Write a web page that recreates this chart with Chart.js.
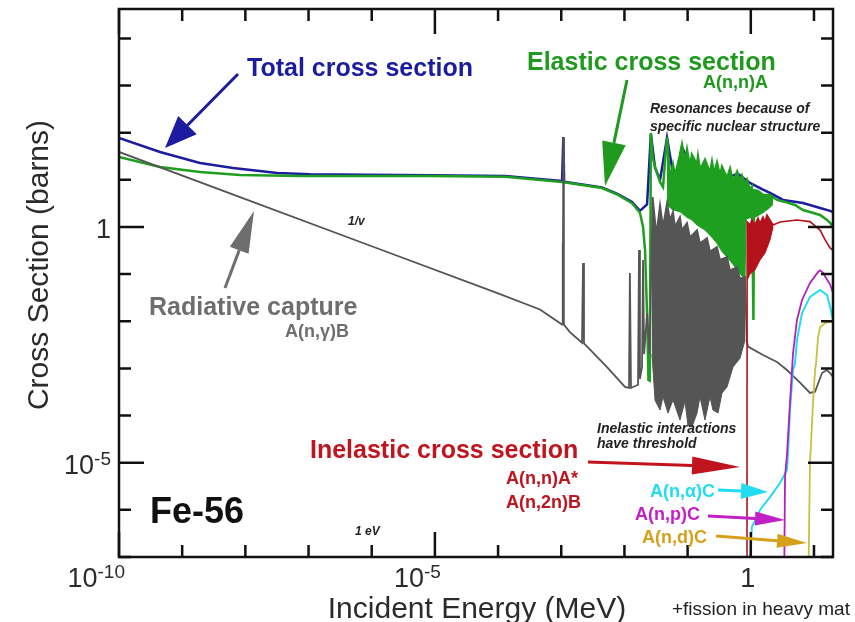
<!DOCTYPE html>
<html>
<head>
<meta charset="utf-8">
<script src="https://cdn.jsdelivr.net/npm/chart.js@4.4.1/dist/chart.umd.min.js"></script>
<style>
html, body { margin: 0; padding: 0; background: #fff; }
#wrap { width: 855px; height: 622px; position: relative; }
</style>
</head>
<body>
<div id="wrap"><canvas id="xsChart"></canvas></div>
<script>
// Fe-56 neutron cross sections, energy in MeV, cross section in barns
var totalE = [1e-10, 4.46e-10, 1.91e-9, 6.4e-9, 3.2e-8, 1.05e-7, 8.4e-7, 8.4e-6, 1.29e-4, 1.03e-3, 1.08e-3, 1.11e-3, 4.41e-3, 7.9e-3, 1.32e-2, 1.76e-2, 2.28e-2, 2.62e-2, 3.05e-2, 3.66e-2, 4.72e-2, 6.31e-2, 8.14e-2, 0.146, 0.243, 0.391, 0.627, 0.971, 1.56, 2.01, 3.24, 6.7, 12.5, 18.0, 20];
var totalS = [77, 39, 22.8, 17.8, 14.0, 13.2, 12.8, 12.5, 12.0, 9.4, 81, 9.1, 6.9, 5.0, 3.4, 2.2, 3.0, 95, 18, 9.9, 78, 7.8, 50, 9, 10, 11, 13.3, 8.6, 6.2, 5.26, 3.74, 3.23, 2.53, 2.2, 2.08];

var elasticE = [1e-10, 4.46e-10, 1.91e-9, 8.2e-9, 7.3e-8, 8.4e-6, 1.29e-4, 1.03e-3, 4.41e-3, 7.9e-3, 1.32e-2, 1.76e-2, 1.97e-2, 2.12e-2, 2.28e-2, 2.40e-2, 2.52e-2, 2.62e-2, 2.8e-2, 3.05e-2, 3.66e-2, 4.08e-2, 4.72e-2, 5.26e-2, 5.87e-2, 6.31e-2, 7.57e-2, 8.14e-2, 9.09e-2, 9.78e-2, 0.109, 0.117, 0.141, 0.146, 0.157, 0.188, 0.226, 0.243, 0.262, 0.292, 0.326, 0.350, 0.420, 0.469, 0.523, 0.605, 0.675, 0.726, 0.81, 0.871, 0.971, 1.04, 1.10, 1.13, 1.30, 1.56, 2.01, 2.6, 3.48, 5.01, 6.7, 8.65, 12.5, 16.1, 18.0, 20];
var elasticS = [30.5, 18.7, 14.7, 12.7, 12.1, 12.1, 11.6, 9.0, 6.7, 4.8, 3.2, 2.0, 1.0, 0.32, 0.015, 5.7e-4, 5.5e-4, 99, 30, 18.7, 9.0, 7.06, 81, 9.9, 20.7, 12.1, 33.7, 55, 23.9, 43, 18.7, 33.7, 20.7, 30.5, 16.2, 26.4, 14.0, 23.9, 13.3, 22.8, 12.1, 18.7, 10.9, 17, 9.0, 14.7, 9.0, 12.1, 7.8, 9.9, 6.1, 7.06, 0.0106, 6.0, 5.8, 4.77, 4.77, 3.74, 3.4, 2.93, 2.29, 2.08, 1.8, 1.4, 1.22, 1.0];
// lower edge of the dense elastic resonances
var elasticLowE = [4.72e-2, 5.87e-2, 7.57e-2, 9.78e-2, 0.117, 0.141, 0.188, 0.243, 0.292, 0.350, 0.420, 0.523, 0.627, 0.726, 0.81, 0.84, 0.871, 1.04, 1.16, 1.56, 2.01, 2.25];
var elasticLowS = [2.9, 2.3, 2.1, 1.6, 1.4, 1.1, 0.86, 0.6, 0.45, 0.3, 0.23, 0.16, 0.12, 0.09, 0.08, 1.4, 1.5, 1.6, 1.6, 2.0, 2.6, 3.0];

var captureE = [1e-10, 1e-8, 1e-6, 1e-4, 4.6e-4, 1.03e-3, 1.05e-3, 1.06e-3, 1.08e-3, 1.10e-3, 1.37e-3, 2.13e-3, 2.21e-3, 2.29e-3, 5.3e-3, 1.02e-2, 1.18e-2, 1.22e-2, 1.27e-2, 1.64e-2, 1.70e-2, 1.76e-2, 1.90e-2, 1.97e-2, 2.05e-2, 2.28e-2, 2.5e-2, 2.8e-2, 3.2e-2, 3.66e-2, 4.08e-2, 4.72e-2, 5.26e-2, 5.87e-2, 6.31e-2, 7.57e-2, 8.14e-2, 9.78e-2, 0.109, 0.141, 0.157, 0.203, 0.226, 0.292, 0.326, 0.42, 0.469, 0.605, 0.675, 0.81, 0.86, 0.903, 1.56, 2.6, 3.74, 6.01, 8.65, 10.4, 13.4, 16.0, 18.0, 20];
var captureS = [39, 3.9, 0.39, 0.039, 0.0178, 0.0085, 0.46, 0.013, 81, 0.0085, 0.0059, 0.0035, 0.172, 0.0034, 0.00107, 4.04e-4, 3.85e-4, 0.106, 3.85e-4, 4.5e-4, 0.325, 6e-4, 0.00107, 0.2, 0.002, 0.015, 0.002, 4.33, 0.7, 2.93, 1.0, 3.2, 1.4, 2.1, 1.0, 1.63, 0.86, 1.22, 0.6, 0.86, 0.45, 0.585, 0.3, 0.377, 0.2, 0.231, 0.12, 0.142, 0.08, 0.087, 0.004, 0.0029, 0.00193, 0.00137, 9.25e-4, 5.0e-4, 3.01e-4, 3.2e-4, 8.0e-4, 9.25e-4, 8e-4, 6.6e-4];
// lower edge of the dense capture resonances
var captureLowE = [2.73e-2, 3.05e-2, 3.66e-2, 4.08e-2, 4.89e-2, 5.87e-2, 7.57e-2, 9.09e-2, 0.101, 0.117, 0.141, 0.157, 0.188, 0.226, 0.252, 0.303, 0.35, 0.42, 0.523, 0.675, 0.81];
var captureLowS = [0.002, 2.1e-4, 1.31e-4, 2.5e-4, 1.13e-4, 2.14e-4, 8.05e-5, 2.0e-4, 6.3e-5, 5.71e-5, 1.13e-4, 2.5e-4, 8.05e-5, 2.5e-4, 1.31e-4, 1.13e-4, 3e-4, 4.04e-4, 1.07e-3, 1.64e-3, 0.004];

var inelasticE = [0.87, 0.875, 0.971, 1.04, 1.16, 1.30, 1.40, 1.56, 1.68, 1.80, 2.01, 2.25, 2.9, 5.38, 8.65, 12.5, 15.0, 18.0, 20];
var inelasticS = [1e-8, 1.28, 1.1, 1.41, 1.1, 1.55, 1.2, 1.63, 1.28, 1.8, 1.41, 1.1, 1.28, 1.41, 1.3, 0.86, 0.53, 0.36, 0.32];
var inelasticLowE = [0.875, 0.971, 1.16, 1.40, 1.68, 2.01, 2.25];
var inelasticLowS = [0.0751, 0.1, 0.122, 0.2, 0.28, 0.53, 1.0];

var nAlphaE = [0.90, 1.04, 1.40, 2.01, 2.9, 3.74, 3.88, 4.17, 4.49, 4.66, 5.01, 5.38, 6.47, 8.65, 12.5, 16.1, 18.0, 20];
var nAlphaS = [1e-8, 4.33e-7, 9.93e-7, 1.87e-6, 3.71e-6, 7.0e-6, 1.61e-5, 1.31e-4, 5.0e-4, 9.25e-4, 1.3e-3, 4.0e-3, 0.015, 0.033, 0.046, 0.036, 0.02, 0.0106];

var nProtonE = [3.35, 3.48, 3.74, 4.17, 4.49, 4.66, 5.38, 6.47, 8.65, 11.6, 12.5, 13.9, 18.0, 20];
var nProtonS = [1e-8, 5e-6, 1.5e-5, 1.85e-4, 9.25e-4, 0.00212, 0.0106, 0.0283, 0.065, 0.111, 0.12, 0.106, 0.06, 0.04];

var nDeutE = [8.05, 8.65, 9.66, 10.4, 10.8, 11.6, 12.5, 15.0, 18.0, 20];
var nDeutS = [1e-8, 1e-5, 1.85e-4, 9.25e-4, 1.3e-3, 0.0046, 0.0075, 0.0092, 0.0097, 0.0097];

// axes
var xTicks = [1e-10, 1e-9, 1e-8, 1e-7, 1e-6, 1e-5, 1e-4, 1e-3, 1e-2, 1e-1, 1, 10];
var xMajor = [1e-10, 1e-5, 1];
var yTicks = [1e-7, 1e-6, 1e-5, 1e-4, 1e-3, 1e-2, 1e-1, 1, 10, 100, 1000, 1e4];
var yMajor = [1e-5, 1];
var xLabelVals = [1e-10, 1e-5, 1];
var xLabelBase = ['10', '10', '1'];
var xLabelExp = ['-10', '-5', ''];
var yLabelVals = [1, 1e-5];
var yLabelBase = ['1', '10'];
var yLabelExp = ['', '-5'];

function pts(E, S) {
    return E.map(function (e, i) { return { x: e, y: S[i] }; });
}

var FONT = '"Liberation Sans", Arial, sans-serif';

function drawArrow(ctx, x0, y0, x1, y1, len, half, color, lw) {
    var a = Math.atan2(y1 - y0, x1 - x0);
    var bx = x1 - len * Math.cos(a), by = y1 - len * Math.sin(a);
    ctx.strokeStyle = color;
    ctx.fillStyle = color;
    ctx.lineWidth = lw;
    ctx.beginPath();
    ctx.moveTo(x0, y0);
    ctx.lineTo(bx, by);
    ctx.stroke();
    ctx.beginPath();
    ctx.moveTo(x1, y1);
    ctx.lineTo(bx + half * Math.sin(a), by - half * Math.cos(a));
    ctx.lineTo(bx - half * Math.sin(a), by + half * Math.cos(a));
    ctx.closePath();
    ctx.fill();
}

function text(ctx, str, x, y, font, color, align) {
    ctx.font = font;
    ctx.fillStyle = color;
    ctx.textAlign = align || 'left';
    ctx.textBaseline = 'alphabetic';
    ctx.fillText(str, x, y);
}

// "10" with a raised exponent
function powLabel(ctx, base, exp, x, baseline, anchor) {
    ctx.font = '27px ' + FONT;
    var wb = ctx.measureText(base).width;
    ctx.font = '19px ' + FONT;
    var we = exp ? ctx.measureText(exp).width : 0;
    var left = anchor === 'right' ? x - wb - we : x - (wb + we) / 2;
    text(ctx, base, left, baseline, '27px ' + FONT, '#2b2b2b');
    if (exp) text(ctx, exp, left + wb, baseline - 9, '19px ' + FONT, '#2b2b2b');
}

var framePlugin = {
    id: 'frame',
    beforeDraw: function (chart) {
        var ctx = chart.ctx;
        ctx.save();
        ctx.fillStyle = '#fff';
        ctx.fillRect(0, 0, chart.width, chart.height);
        ctx.restore();
    },
    afterDraw: function (chart) {
        var ctx = chart.ctx, a = chart.chartArea;
        var xs = chart.scales.x, ys = chart.scales.y;
        ctx.save();

        // ticks pointing inward on all four sides
        ctx.strokeStyle = '#111';
        ctx.lineWidth = 2.5;
        xTicks.forEach(function (v) {
            var px = xs.getPixelForValue(v);
            var len = xMajor.indexOf(v) >= 0 ? 25 : 12;
            ctx.beginPath();
            ctx.moveTo(px, a.bottom); ctx.lineTo(px, a.bottom - len);
            ctx.moveTo(px, a.top); ctx.lineTo(px, a.top + len);
            ctx.stroke();
        });
        yTicks.forEach(function (v) {
            var py = ys.getPixelForValue(v);
            var len = yMajor.indexOf(v) >= 0 ? 25 : 12;
            ctx.beginPath();
            ctx.moveTo(a.left, py); ctx.lineTo(a.left + len, py);
            ctx.moveTo(a.right, py); ctx.lineTo(a.right - len, py);
            ctx.stroke();
        });
        ctx.strokeRect(a.left, a.top, a.right - a.left, a.bottom - a.top);

        // tick labels
        xLabelVals.forEach(function (v, i) {
            var px = xs.getPixelForValue(v);
            if (xLabelExp[i]) powLabel(ctx, xLabelBase[i], xLabelExp[i], px + 6, 587, 'right');
            else powLabel(ctx, xLabelBase[i], '', px - 3, 587, 'center');
        });
        yLabelVals.forEach(function (v, i) {
            var py = ys.getPixelForValue(v);
            powLabel(ctx, yLabelBase[i], yLabelExp[i], a.left - 8, py + 11, 'right');
        });

        // axis titles
        text(ctx, 'Incident Energy (MeV)', 477, 618, '30px ' + FONT, '#2b2b2b', 'center');
        ctx.save();
        ctx.translate(48, 265);
        ctx.rotate(-Math.PI / 2);
        text(ctx, 'Cross Section (barns)', 0, 0, '30px ' + FONT, '#2b2b2b', 'center');
        ctx.restore();
        text(ctx, '+fission in heavy mat', 672, 615, '19px ' + FONT, '#222');

        // annotations
        var blue = '#1c1ca0', green = '#1f9a1f', grey = '#6e6e6e', red = '#c0141e';
        text(ctx, 'Total cross section', 247, 76, 'bold 25px ' + FONT, blue);
        drawArrow(ctx, 238, 74, 165, 148, 32, 13, blue, 3);

        text(ctx, 'Elastic cross section', 527, 70, 'bold 25px ' + FONT, green);
        text(ctx, 'A(n,n)A', 703, 88, 'bold 18px ' + FONT, green);
        drawArrow(ctx, 627, 80, 605, 186, 44, 12, green, 3);
        text(ctx, 'Resonances because of', 650, 113, 'italic bold 14px ' + FONT, '#222');
        text(ctx, 'specific nuclear structure', 650, 131, 'italic bold 14px ' + FONT, '#222');

        text(ctx, '1/v', 348, 225, 'italic bold 12px ' + FONT, '#222');
        text(ctx, 'Radiative capture', 149, 315, 'bold 25px ' + FONT, grey);
        text(ctx, 'A(n,\u03b3)B', 285, 337, 'bold 18px ' + FONT, grey);
        drawArrow(ctx, 225, 288, 254, 211, 42, 10, grey, 3);

        text(ctx, 'Inelastic cross section', 310, 458, 'bold 25px ' + FONT, red);
        text(ctx, 'A(n,n)A*', 506, 484, 'bold 18px ' + FONT, red);
        text(ctx, 'A(n,2n)B', 506, 508, 'bold 18px ' + FONT, red);
        drawArrow(ctx, 588, 462, 740, 467, 48, 9, red, 3);
        text(ctx, 'Inelastic interactions', 597, 433, 'italic bold 14px ' + FONT, '#222');
        text(ctx, 'have threshold', 597, 448, 'italic bold 14px ' + FONT, '#222');

        text(ctx, 'A(n,\u03b1)C', 650, 497, 'bold 18px ' + FONT, '#22dcef');
        drawArrow(ctx, 718, 490, 768, 492, 27, 8, '#22dcef', 3);
        text(ctx, 'A(n,p)C', 635, 520, 'bold 18px ' + FONT, '#c21fc8');
        drawArrow(ctx, 708, 516, 785, 520, 30, 7, '#c21fc8', 3);
        text(ctx, 'A(n,d)C', 642, 543, 'bold 18px ' + FONT, '#d6a01a');
        drawArrow(ctx, 716, 536, 807, 543, 30, 7, '#d6a01a', 3);

        text(ctx, 'Fe-56', 150, 523, 'bold 36px ' + FONT, '#111');
        text(ctx, '1 eV', 355, 535, 'italic bold 12px ' + FONT, '#222');
        ctx.restore();
    }
};

var ctx = document.getElementById('xsChart').getContext('2d');
var myChart = new Chart(ctx, {
    type: 'line',
    data: {
        datasets: [{
            label: 'Total',
            data: pts(totalE, totalS),
            borderColor: '#1c1ca0',
            borderWidth: 2.5,
            order: 7
        }, {
            label: 'Elastic',
            data: pts(elasticE, elasticS),
            borderColor: '#1f9f1f',
            borderWidth: 2.5,
            order: 6
        }, {
            label: 'Elastic resonances',
            data: pts(elasticLowE, elasticLowS),
            borderColor: '#1f9f1f',
            backgroundColor: '#1f9f1f',
            borderWidth: 1,
            fill: 1,
            order: 6.5
        }, {
            label: 'Capture',
            data: pts(captureE, captureS),
            borderColor: '#555555',
            borderWidth: 1.8,
            order: 5
        }, {
            label: 'Capture resonances',
            data: pts(captureLowE, captureLowS),
            borderColor: '#555555',
            backgroundColor: '#555555',
            borderWidth: 1,
            fill: 3,
            order: 5.5
        }, {
            label: 'Inelastic',
            data: pts(inelasticE, inelasticS),
            borderColor: '#b3121b',
            borderWidth: 1.6,
            order: 4
        }, {
            label: 'Inelastic resonances',
            data: pts(inelasticLowE, inelasticLowS),
            borderColor: '#b3121b',
            backgroundColor: '#b3121b',
            borderWidth: 1,
            fill: 5,
            order: 4.5
        }, {
            label: 'A(n,a)C',
            data: pts(nAlphaE, nAlphaS),
            borderColor: '#22dcef',
            borderWidth: 2,
            order: 3
        }, {
            label: 'A(n,p)C',
            data: pts(nProtonE, nProtonS),
            borderColor: '#b41fc0',
            borderWidth: 1.8,
            order: 2
        }, {
            label: 'A(n,d)C',
            data: pts(nDeutE, nDeutS),
            borderColor: '#c8c040',
            borderWidth: 1.8,
            order: 1
        }]
    },
    options: {
        responsive: true,
        maintainAspectRatio: false,
        animation: false,
        devicePixelRatio: 1,
        layout: { padding: { left: 119, top: 9, right: 22, bottom: 65 } },
        elements: {
            point: { radius: 0, hoverRadius: 0 },
            line: { tension: 0, fill: false }
        },
        scales: {
            x: { type: 'logarithmic', min: 1e-10, max: 20, display: false },
            y: { type: 'logarithmic', min: 1e-7, max: 4.2e4, display: false }
        },
        plugins: {
            legend: { display: false },
            tooltip: { enabled: false }
        }
    },
    plugins: [framePlugin]
});
</script>
</body>
</html>
